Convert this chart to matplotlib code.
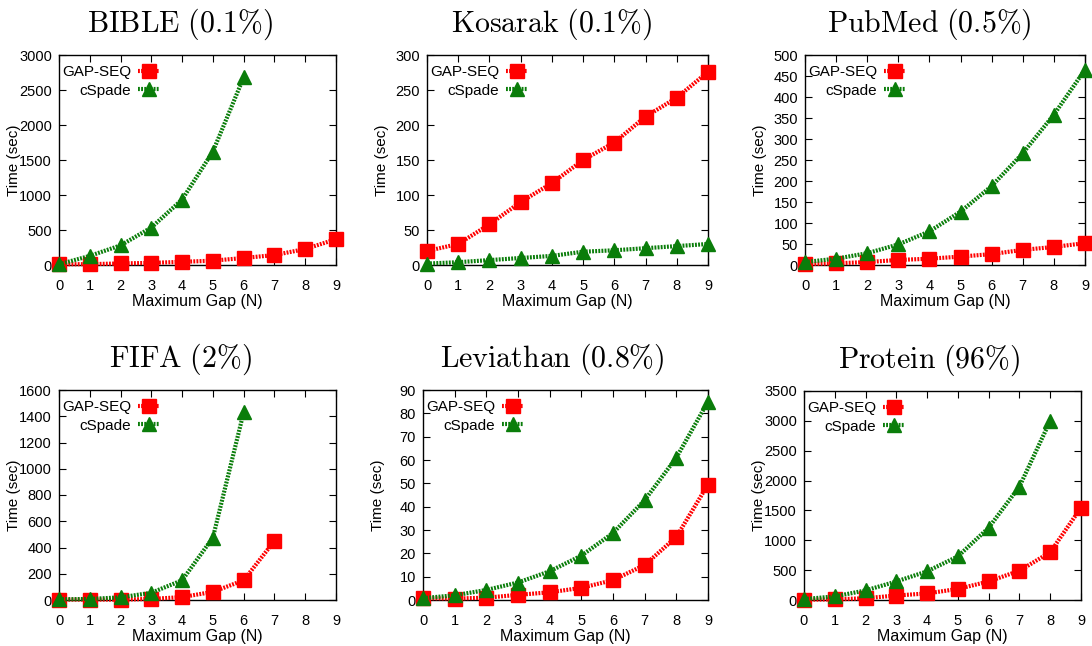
import matplotlib.pyplot as plt
import numpy as np

plt.rcParams['font.family'] = ['Liberation Sans', 'DejaVu Sans']
plt.rcParams['mathtext.fontset'] = 'cm'

# Data (time in seconds per maximum gap N)
titles = ['BIBLE (0.1\\%)', 'Kosarak (0.1\\%)', 'PubMed (0.5\\%)',
          'FIFA (2\\%)', 'Leviathan (0.8\\%)', 'Protein (96\\%)']

gapseq_bible = [10, 12, 22, 30, 45, 62, 100, 142, 228, 368]
cspade_bible = [10, 130, 280, 535, 935, 1620, 2680]

gapseq_kosarak = [20, 30, 58, 90, 117, 150, 175, 212, 239, 276]
cspade_kosarak = [2, 4, 7, 10, 13, 19, 21, 24, 27, 30]

gapseq_pubmed = [2, 4, 7, 12, 15, 20, 26, 36, 43, 52]
cspade_pubmed = [7, 15, 28, 49, 80, 127, 188, 266, 358, 465]

gapseq_fifa = [3, 3, 3, 8, 22, 62, 150, 450]
cspade_fifa = [5, 8, 20, 55, 150, 475, 1430]

gapseq_leviathan = [0.8, 0.6, 1.0, 2.2, 3.3, 5.2, 8.5, 15.0, 27.0, 49.5]
cspade_leviathan = [0.8, 2.0, 4.3, 7.5, 12.3, 19.0, 28.7, 42.8, 61.0, 85.0]

gapseq_protein = [5, 10, 30, 75, 110, 185, 310, 490, 800, 1545]
cspade_protein = [15, 60, 160, 310, 480, 730, 1210, 1900, 3000]

series = [
    (gapseq_bible, cspade_bible, 3000, 500),
    (gapseq_kosarak, cspade_kosarak, 300, 50),
    (gapseq_pubmed, cspade_pubmed, 500, 50),
    (gapseq_fifa, cspade_fifa, 1600, 200),
    (gapseq_leviathan, cspade_leviathan, 90, 10),
    (gapseq_protein, cspade_protein, 3500, 500),
]

W, H = 1092, 646
# axes boxes in pixels: left, top, right, bottom
boxes = [(59, 55, 336, 265), (427, 55, 708, 265), (805, 55, 1085, 265),
         (59, 390, 336, 600), (423, 390, 708, 600), (804, 391, 1081, 600)]
# titles sit over the middle of each figure column, not each axes
title_cx = [180, 552, 929, 180, 552, 929]

fig = plt.figure(figsize=(W / 100, H / 100), dpi=100)

red = '#ff0000'
green = '#0a7d0a'

for i, (g, c, ymax, ystep) in enumerate(series):
    l, t, r, b = boxes[i]
    w, h = r - l, b - t
    ax = fig.add_axes([l / W, 1 - b / H, w / W, h / H])
    ax.plot(np.arange(len(g)), g, color=red, lw=3.0, ls=(0, (0.45, 0.3)),
            marker='s', ms=10, mec=red, clip_on=False, zorder=3,
            label='GAP-SEQ')
    ax.plot(np.arange(len(c)), c, color=green, lw=3.0, ls=(0, (0.45, 0.3)),
            marker='^', ms=10, mec=green, clip_on=False, zorder=4,
            label='cSpade')
    ax.set_xlim(0, 9)
    ax.set_ylim(0, ymax)
    ax.set_xticks(range(10))
    ax.set_yticks(np.arange(0, ymax + ystep / 2, ystep))
    ax.tick_params(direction='in', top=True, right=True, length=5,
                   labelsize=10.5, pad=5)
    ax.tick_params(axis='x', pad=10)
    for s in ax.spines.values():
        s.set_linewidth(1.0)
    ax.set_xlabel('Maximum Gap (N)', fontsize=11.5, labelpad=1)
    ax.set_ylabel('Time (sec)', fontsize=11)
    ax.yaxis.set_label_coords(-38 / w, 0.5)
    ax.set_title('$\\mathrm{' + titles[i].replace(' ', '\\ ') + '}$',
                 fontsize=21.5, pad=17, x=(title_cx[i] - l) / w)
    ax.legend(loc='upper left', bbox_to_anchor=(0.0, 0.967),
              markerfirst=False, frameon=False,
              fontsize=11, handlelength=1.4, handletextpad=0.45,
              borderaxespad=0, labelspacing=0.3, borderpad=0.2)

fig.savefig('out.png', dpi=100)
